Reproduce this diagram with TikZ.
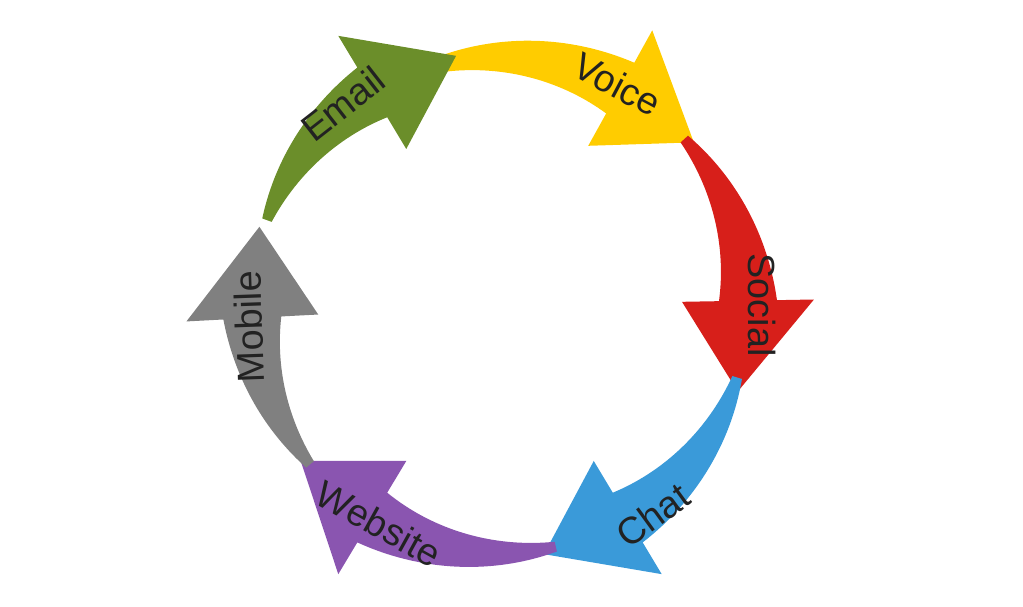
\documentclass[tikz,border=0pt]{standalone}
\usepackage{fontspec}
\setmainfont{Liberation Sans}
\definecolor{cgreen}{HTML}{6B8E2A}
\definecolor{cyellow}{HTML}{FFCC00}
\definecolor{cred}{HTML}{D71F1A}
\definecolor{cblue}{HTML}{3A9AD9}
\definecolor{cpurple}{HTML}{8A55B0}
\definecolor{cgrey}{HTML}{808080}
\definecolor{ctext}{HTML}{222222}
\newcommand{\arrowseg}[3]{%
  \pgfmathsetmacro{\hb}{#3+21}%
  \fill[#1] plot[domain=#2:\hb,samples=40,variable=\t]
     ({\t}:{248+(10+48*(#2-\t)/(#2-\hb))/2})
     -- (\hb:{248+66}) -- (#3:253) -- (\hb:{248-66})
     -- plot[domain=\hb:#2,samples=40,variable=\t]
     ({\t}:{248-(10+48*(#2-\t)/(#2-\hb))/2}) -- cycle;}
\begin{document}
\begin{tikzpicture}[x=0.02cm,y=0.02cm,
  lab/.style={text=ctext,font=\fontsize{21.5}{26}\selectfont,inner sep=0pt}]
\useasboundingbox (0,0) rectangle (1023,607);
\begin{scope}[shift={(500,302)}]
\arrowseg{cyellow}{110}{40}
\arrowseg{cred}{42}{-20}
\arrowseg{cblue}{-17}{-80}
\arrowseg{cpurple}{-77}{-142}
\arrowseg{cgrey}{-140}{-198}
\arrowseg{cgreen}{160}{100}
\node[lab,rotate=38] (email) at (128:255) {Email};
\node[lab,rotate=-28] (voice) at (62:250) {Voice};
\node[lab,rotate=-90] (social) at (0:262) {Social};
\node[lab,rotate=36] (chat) at (-54:260) {Chat};
\node[lab,rotate=-29] (website) at (-119:250) {Website};
\node[lab,rotate=92] (mobile) at (185:252) {Mobile};
\end{scope}
\end{tikzpicture}
\end{document}
